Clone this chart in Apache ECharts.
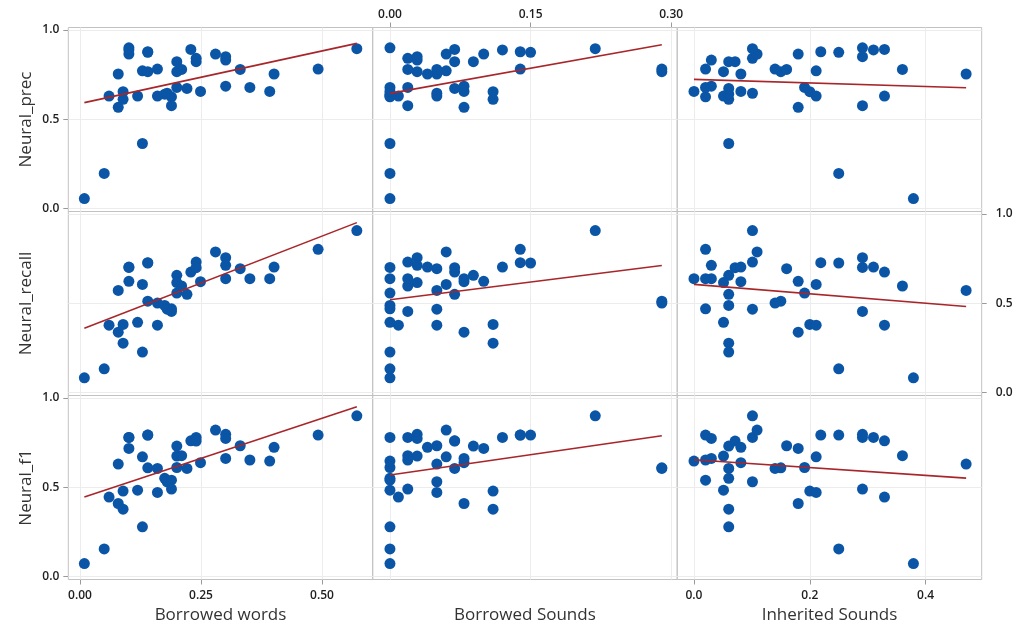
<!DOCTYPE html>
<html lang="en">
<head>
<meta charset="utf-8">
<title>Neural scores vs borrowing</title>
<script src="https://cdn.jsdelivr.net/npm/echarts@6/dist/echarts.min.js"></script>
<style>html,body{margin:0;padding:0;background:#fff;}</style>
</head>
<body>
<div id="main" style="width:1026px;height:628px;"></div>
<script>
// one entry per language, same order in every array
var borrowedWords   = [0.009,0.050,0.060,0.079,0.079,0.089,0.089,0.101,0.101,0.101,0.119,0.129,0.129,0.140,0.140,0.140,0.160,0.160,0.175,0.180,0.189,0.189,0.200,0.200,0.200,0.210,0.221,0.229,0.240,0.240,0.249,0.280,0.301,0.301,0.301,0.331,0.351,0.392,0.401,0.492,0.572];
var borrowedSounds  = [0,0,0.009,0.050,0.079,0.110,0.110,0,0.100,0.120,0,0,0.060,0.139,0.150,0.290,0.050,0.290,0,0.050,0,0.019,0.089,0.029,0,0.019,0.069,0.069,0.019,0.069,0.079,0.060,0.029,0.029,0.079,0.050,0.019,0,0.040,0.139,0.219];
var inheritedSounds = [0.379,0.250,0.329,0.470,0.180,0.060,0.200,0.291,0.180,0.310,0.051,0.060,0.211,0.219,0.250,0.150,0.211,0.140,0.060,0.101,0.020,0.291,0.060,0.051,0.191,0.360,0.060,0.329,0.101,0.071,0.081,0.109,0.291,0.030,0.030,0.160,0.020,0,0.081,0.020,0.101];
var neuralPrec   = [0.054,0.195,0.629,0.753,0.566,0.611,0.654,0.900,0.865,0.888,0.629,0.363,0.771,0.878,0.875,0.766,0.629,0.781,0.640,0.645,0.625,0.575,0.822,0.766,0.678,0.779,0.672,0.891,0.841,0.822,0.655,0.865,0.850,0.831,0.685,0.779,0.678,0.655,0.753,0.781,0.895];
var neuralRecall = [0.081,0.131,0.376,0.571,0.337,0.275,0.380,0.700,0.622,0.702,0.392,0.225,0.605,0.727,0.725,0.511,0.376,0.500,0.487,0.466,0.468,0.453,0.656,0.615,0.556,0.596,0.549,0.674,0.730,0.699,0.620,0.787,0.755,0.712,0.637,0.693,0.637,0.637,0.702,0.802,0.907];
var neuralF1     = [0.071,0.153,0.444,0.629,0.408,0.376,0.478,0.779,0.717,0.779,0.483,0.277,0.670,0.792,0.792,0.608,0.470,0.605,0.549,0.530,0.539,0.489,0.730,0.674,0.610,0.676,0.605,0.760,0.779,0.758,0.637,0.820,0.796,0.773,0.661,0.732,0.652,0.646,0.723,0.792,0.900];

var xNames = ['Borrowed words', 'Borrowed Sounds', 'Inherited Sounds'];
var yNames = ['Neural_prec', 'Neural_recall', 'Neural_f1'];
var xTicks = [[0, 0.25, 0.5], [0, 0.15, 0.3], [0, 0.2, 0.4]];
var xDecimals = [2, 2, 1];
var yTicks = [0, 0.5, 1];

var xCols = [borrowedWords, borrowedSounds, inheritedSounds];
var yRows = [neuralPrec, neuralRecall, neuralF1];

// panel layout
var colLeft = [68.3, 372.7, 677.3], colWidth = 304.4;
var rowTop = [27.5, 211.5, 395.5], rowHeight = 184;
var xRange = [[-0.0242, 0.6048], [-0.0184, 0.3063], [-0.0288, 0.4969]];
var yRange = [-0.0185, 1.014];

var FONT = 'Open Sans';
var tickFont = { fontSize: 12, fontWeight: 600, color: '#1e1e1e', fontFamily: FONT };

function fitLine(xs, ys) {
  var n = xs.length, mx = 0, my = 0;
  for (var i = 0; i < n; i++) { mx += xs[i]; my += ys[i]; }
  mx /= n; my /= n;
  var sxy = 0, sxx = 0;
  for (i = 0; i < n; i++) { sxy += (xs[i] - mx) * (ys[i] - my); sxx += (xs[i] - mx) * (xs[i] - mx); }
  var b = sxy / sxx, a = my - b * mx;
  var x0 = Math.min.apply(null, xs), x1 = Math.max.apply(null, xs);
  return [[x0, a + b * x0], [x1, a + b * x1]];
}

var grids = [], xAxes = [], yAxes = [], series = [];

for (var r = 0; r < 3; r++) {
  for (var c = 0; c < 3; c++) {
    var i = r * 3 + c;
    var showX = (r === 2 && c !== 1) || (r === 0 && c === 1);
    var showY = (c === 0 && r !== 1) || (c === 2 && r === 1);
    grids.push({
      left: colLeft[c], top: rowTop[r], width: colWidth, height: rowHeight,
      show: true, borderColor: '#c2c2c2', borderWidth: 1
    });
    (function (c) {
      xAxes.push({
        gridIndex: i, type: 'value', min: xRange[c][0], max: xRange[c][1],
        position: r === 0 ? 'top' : 'bottom',
        axisLine: { show: false, onZero: false },
        splitLine: { show: false },
        axisTick: { show: showX, customValues: xTicks[c], length: 5, lineStyle: { color: '#9a9a9a' } },
        axisLabel: Object.assign({
          show: showX, customValues: xTicks[c], margin: r === 0 ? 7 : 10,
          formatter: function (v) { return v.toFixed(xDecimals[c]); }
        }, tickFont),
        name: r === 2 ? xNames[c] : '', nameLocation: 'middle', nameGap: 27,
        nameTextStyle: { fontSize: 17, color: '#333', fontFamily: FONT }
      });
    })(c);
    yAxes.push({
      gridIndex: i, type: 'value', min: yRange[0], max: yRange[1],
      position: c === 2 ? 'right' : 'left',
      axisLine: { show: false, onZero: false },
      splitLine: { show: false },
      axisTick: { show: showY, customValues: yTicks, length: 5, lineStyle: { color: '#9a9a9a' } },
      axisLabel: Object.assign({
        show: showY, customValues: yTicks, margin: c === 2 ? 14 : 9,
        formatter: function (v) { return v.toFixed(1); }
      }, tickFont),
      name: c === 0 ? yNames[r] : '', nameLocation: 'middle', nameGap: 34,
      nameTextStyle: { fontSize: 17, color: '#333', fontFamily: FONT }
    });

    var xs = xCols[c], ys = yRows[r];
    var pts = xs.map(function (x, k) { return [x, ys[k]]; });
    var grid = yTicks.map(function (v) { return { yAxis: v }; })
      .concat(xTicks[c].map(function (v) { return { xAxis: v }; }));

    series.push({
      type: 'scatter', xAxisIndex: i, yAxisIndex: i, data: pts,
      symbolSize: 11, z: 3, clip: false,
      itemStyle: { color: '#0a55a6', opacity: 1 },
      markLine: {
        silent: true, symbol: 'none', z: 1, animation: false,
        label: { show: false },
        lineStyle: { color: '#ececec', width: 1, type: 'solid' },
        emphasis: { disabled: true },
        data: grid
      }
    });
    series.push({
      type: 'line', xAxisIndex: i, yAxisIndex: i, data: fitLine(xs, ys),
      showSymbol: false, silent: true, z: 4,
      lineStyle: { color: '#a8262a', width: 1.6 }
    });
  }
}

var chart = echarts.init(document.getElementById('main'));
chart.setOption({
  animation: false,
  backgroundColor: '#fff',
  grid: grids,
  xAxis: xAxes,
  yAxis: yAxes,
  series: series
});
</script>
</body>
</html>
